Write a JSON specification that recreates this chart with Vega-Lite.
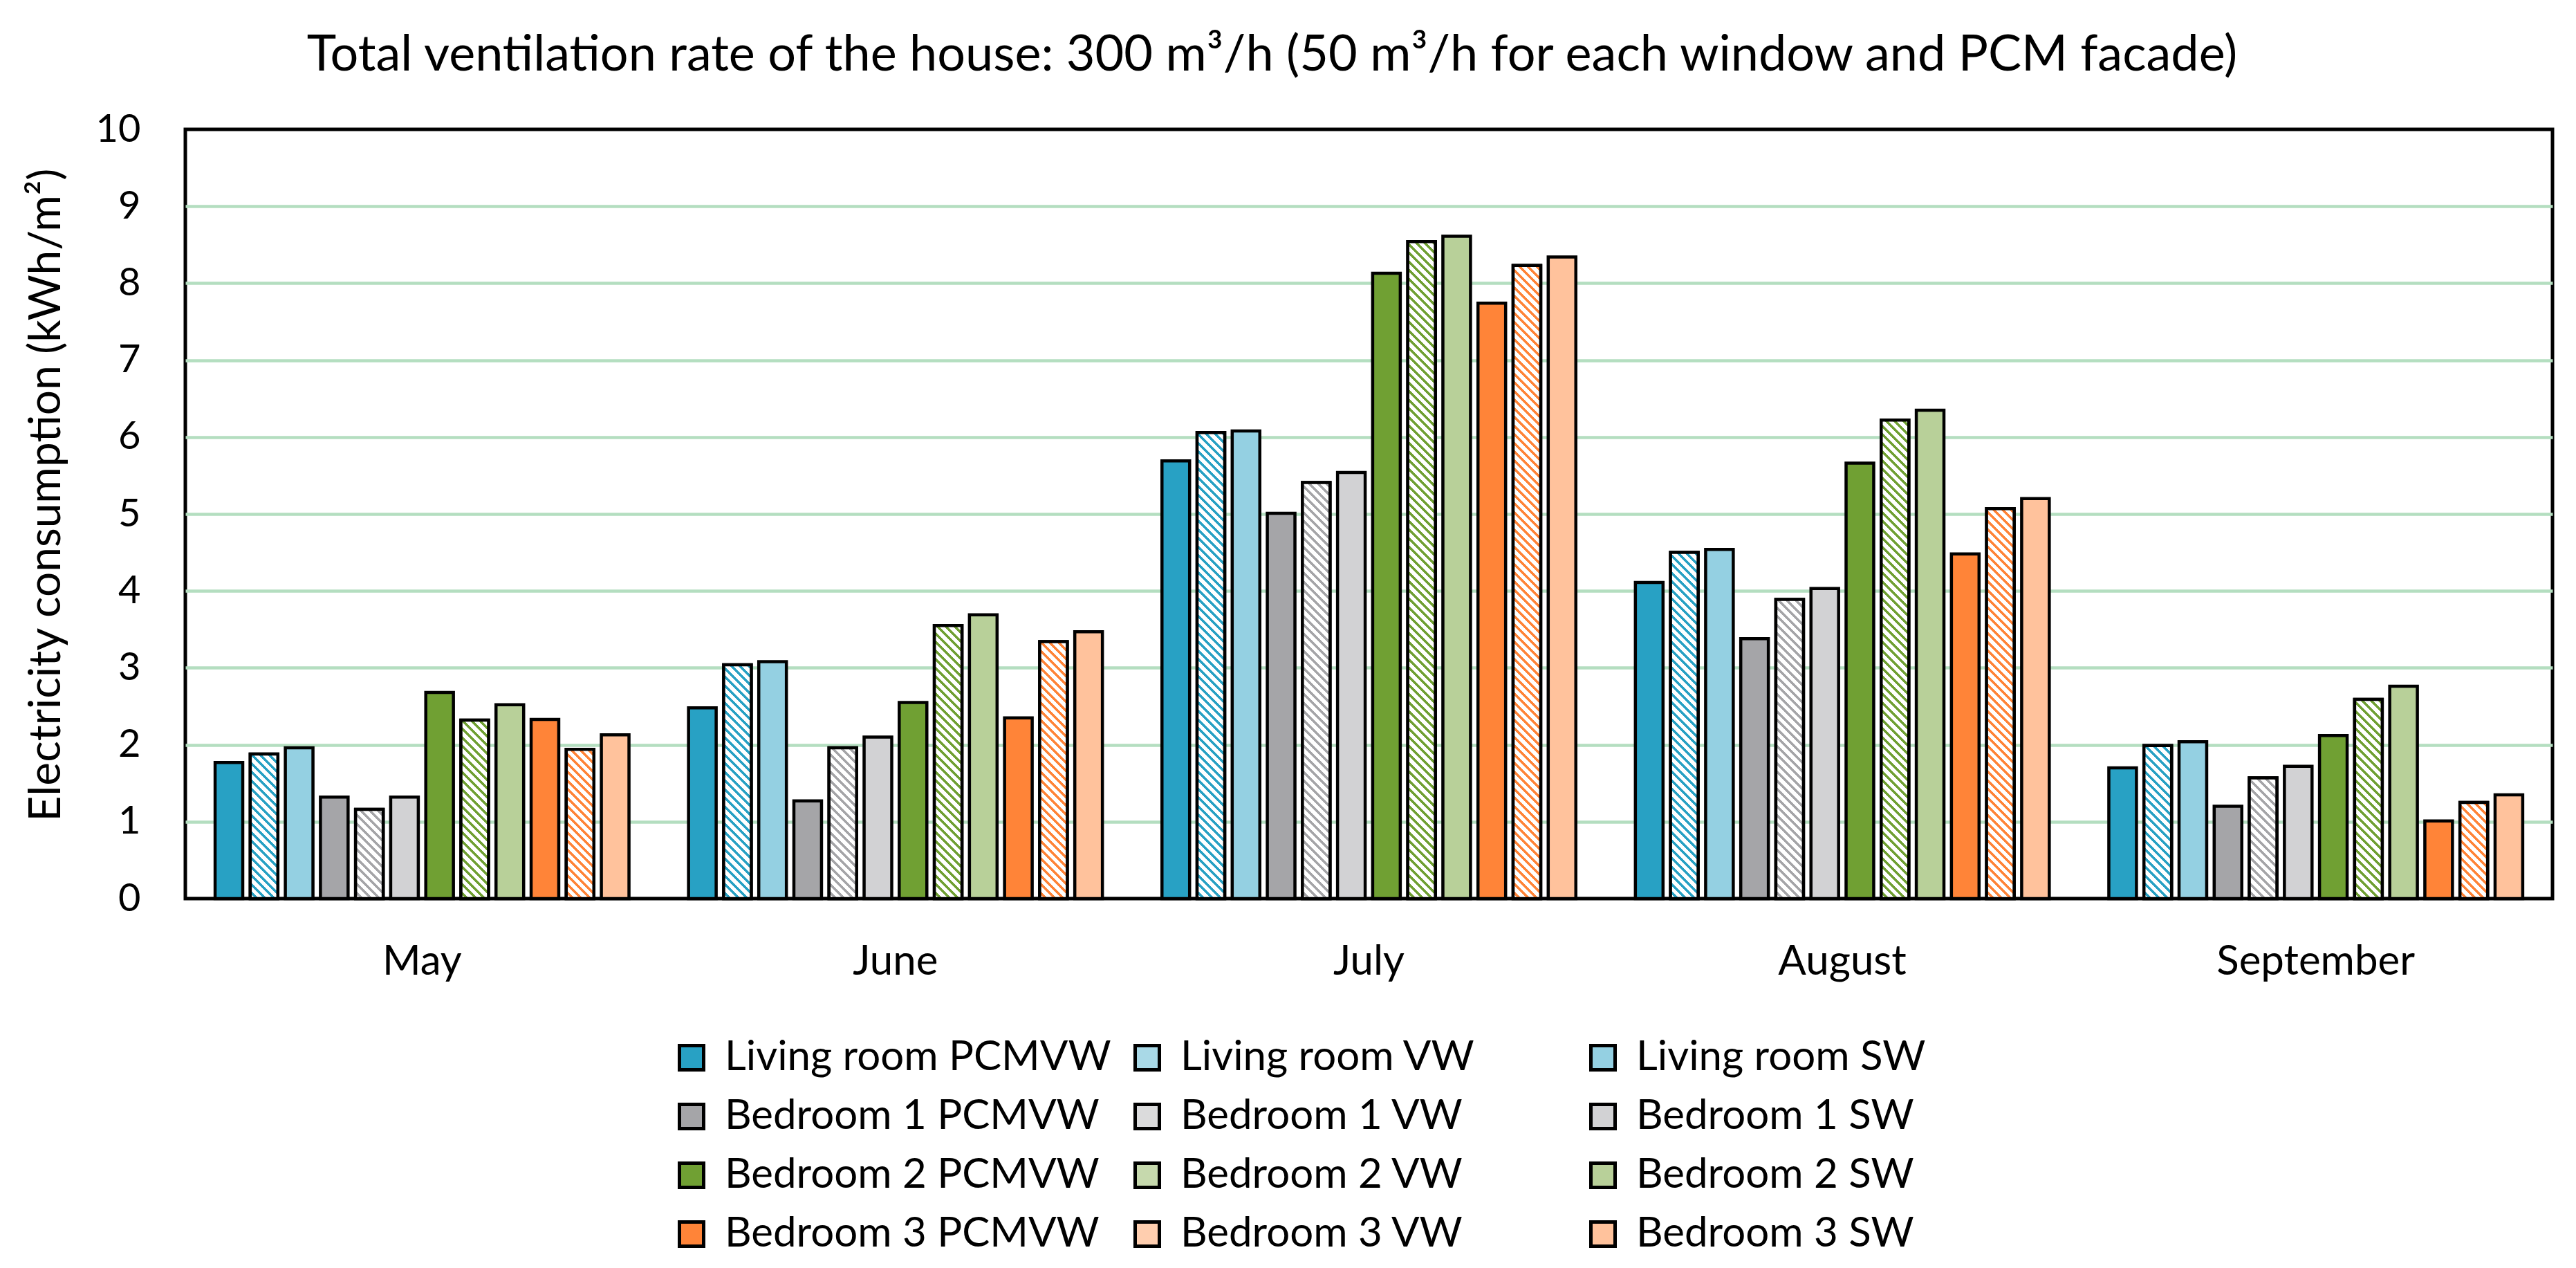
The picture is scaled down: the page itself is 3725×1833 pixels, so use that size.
{
"$schema": "https://vega.github.io/schema/vega-lite/v6.json",
"width": 3423, "height": 1112,
"autosize": {"type": "none"},
"padding": {"left": 268, "top": 187, "right": 34, "bottom": 534},
"background": "white",
"params": [{"name": "hatch", "value": [
{"offset":0,"color":"#fff"},{"offset":0.0075,"color":"#fff"},{"offset":0.0075,"color":"#fff0"},{"offset":0.0125,"color":"#fff0"},
{"offset":0.0125,"color":"#fff"},{"offset":0.02,"color":"#fff"},{"offset":0.02,"color":"#fff0"},{"offset":0.025,"color":"#fff0"},
{"offset":0.025,"color":"#fff"},{"offset":0.0325,"color":"#fff"},{"offset":0.0325,"color":"#fff0"},{"offset":0.0375,"color":"#fff0"},
{"offset":0.0375,"color":"#fff"},{"offset":0.045,"color":"#fff"},{"offset":0.045,"color":"#fff0"},{"offset":0.05,"color":"#fff0"},
{"offset":0.05,"color":"#fff"},{"offset":0.0575,"color":"#fff"},{"offset":0.0575,"color":"#fff0"},{"offset":0.0625,"color":"#fff0"},
{"offset":0.0625,"color":"#fff"},{"offset":0.07,"color":"#fff"},{"offset":0.07,"color":"#fff0"},{"offset":0.075,"color":"#fff0"},
{"offset":0.075,"color":"#fff"},{"offset":0.0825,"color":"#fff"},{"offset":0.0825,"color":"#fff0"},{"offset":0.0875,"color":"#fff0"},
{"offset":0.0875,"color":"#fff"},{"offset":0.095,"color":"#fff"},{"offset":0.095,"color":"#fff0"},{"offset":0.1,"color":"#fff0"},
{"offset":0.1,"color":"#fff"},{"offset":0.1075,"color":"#fff"},{"offset":0.1075,"color":"#fff0"},{"offset":0.1125,"color":"#fff0"},
{"offset":0.1125,"color":"#fff"},{"offset":0.12,"color":"#fff"},{"offset":0.12,"color":"#fff0"},{"offset":0.125,"color":"#fff0"},
{"offset":0.125,"color":"#fff"},{"offset":0.1325,"color":"#fff"},{"offset":0.1325,"color":"#fff0"},{"offset":0.1375,"color":"#fff0"},
{"offset":0.1375,"color":"#fff"},{"offset":0.145,"color":"#fff"},{"offset":0.145,"color":"#fff0"},{"offset":0.15,"color":"#fff0"},
{"offset":0.15,"color":"#fff"},{"offset":0.1575,"color":"#fff"},{"offset":0.1575,"color":"#fff0"},{"offset":0.1625,"color":"#fff0"},
{"offset":0.1625,"color":"#fff"},{"offset":0.17,"color":"#fff"},{"offset":0.17,"color":"#fff0"},{"offset":0.175,"color":"#fff0"},
{"offset":0.175,"color":"#fff"},{"offset":0.1825,"color":"#fff"},{"offset":0.1825,"color":"#fff0"},{"offset":0.1875,"color":"#fff0"},
{"offset":0.1875,"color":"#fff"},{"offset":0.195,"color":"#fff"},{"offset":0.195,"color":"#fff0"},{"offset":0.2,"color":"#fff0"},
{"offset":0.2,"color":"#fff"},{"offset":0.2075,"color":"#fff"},{"offset":0.2075,"color":"#fff0"},{"offset":0.2125,"color":"#fff0"},
{"offset":0.2125,"color":"#fff"},{"offset":0.22,"color":"#fff"},{"offset":0.22,"color":"#fff0"},{"offset":0.225,"color":"#fff0"},
{"offset":0.225,"color":"#fff"},{"offset":0.2325,"color":"#fff"},{"offset":0.2325,"color":"#fff0"},{"offset":0.2375,"color":"#fff0"},
{"offset":0.2375,"color":"#fff"},{"offset":0.245,"color":"#fff"},{"offset":0.245,"color":"#fff0"},{"offset":0.25,"color":"#fff0"},
{"offset":0.25,"color":"#fff"},{"offset":0.2575,"color":"#fff"},{"offset":0.2575,"color":"#fff0"},{"offset":0.2625,"color":"#fff0"},
{"offset":0.2625,"color":"#fff"},{"offset":0.27,"color":"#fff"},{"offset":0.27,"color":"#fff0"},{"offset":0.275,"color":"#fff0"},
{"offset":0.275,"color":"#fff"},{"offset":0.2825,"color":"#fff"},{"offset":0.2825,"color":"#fff0"},{"offset":0.2875,"color":"#fff0"},
{"offset":0.2875,"color":"#fff"},{"offset":0.295,"color":"#fff"},{"offset":0.295,"color":"#fff0"},{"offset":0.3,"color":"#fff0"},
{"offset":0.3,"color":"#fff"},{"offset":0.3075,"color":"#fff"},{"offset":0.3075,"color":"#fff0"},{"offset":0.3125,"color":"#fff0"},
{"offset":0.3125,"color":"#fff"},{"offset":0.32,"color":"#fff"},{"offset":0.32,"color":"#fff0"},{"offset":0.325,"color":"#fff0"},
{"offset":0.325,"color":"#fff"},{"offset":0.3325,"color":"#fff"},{"offset":0.3325,"color":"#fff0"},{"offset":0.3375,"color":"#fff0"},
{"offset":0.3375,"color":"#fff"},{"offset":0.345,"color":"#fff"},{"offset":0.345,"color":"#fff0"},{"offset":0.35,"color":"#fff0"},
{"offset":0.35,"color":"#fff"},{"offset":0.3575,"color":"#fff"},{"offset":0.3575,"color":"#fff0"},{"offset":0.3625,"color":"#fff0"},
{"offset":0.3625,"color":"#fff"},{"offset":0.37,"color":"#fff"},{"offset":0.37,"color":"#fff0"},{"offset":0.375,"color":"#fff0"},
{"offset":0.375,"color":"#fff"},{"offset":0.3825,"color":"#fff"},{"offset":0.3825,"color":"#fff0"},{"offset":0.3875,"color":"#fff0"},
{"offset":0.3875,"color":"#fff"},{"offset":0.395,"color":"#fff"},{"offset":0.395,"color":"#fff0"},{"offset":0.4,"color":"#fff0"},
{"offset":0.4,"color":"#fff"},{"offset":0.4075,"color":"#fff"},{"offset":0.4075,"color":"#fff0"},{"offset":0.4125,"color":"#fff0"},
{"offset":0.4125,"color":"#fff"},{"offset":0.42,"color":"#fff"},{"offset":0.42,"color":"#fff0"},{"offset":0.425,"color":"#fff0"},
{"offset":0.425,"color":"#fff"},{"offset":0.4325,"color":"#fff"},{"offset":0.4325,"color":"#fff0"},{"offset":0.4375,"color":"#fff0"},
{"offset":0.4375,"color":"#fff"},{"offset":0.445,"color":"#fff"},{"offset":0.445,"color":"#fff0"},{"offset":0.45,"color":"#fff0"},
{"offset":0.45,"color":"#fff"},{"offset":0.4575,"color":"#fff"},{"offset":0.4575,"color":"#fff0"},{"offset":0.4625,"color":"#fff0"},
{"offset":0.4625,"color":"#fff"},{"offset":0.47,"color":"#fff"},{"offset":0.47,"color":"#fff0"},{"offset":0.475,"color":"#fff0"},
{"offset":0.475,"color":"#fff"},{"offset":0.4825,"color":"#fff"},{"offset":0.4825,"color":"#fff0"},{"offset":0.4875,"color":"#fff0"},
{"offset":0.4875,"color":"#fff"},{"offset":0.495,"color":"#fff"},{"offset":0.495,"color":"#fff0"},{"offset":0.5,"color":"#fff0"},
{"offset":0.5,"color":"#fff"},{"offset":0.5075,"color":"#fff"},{"offset":0.5075,"color":"#fff0"},{"offset":0.5125,"color":"#fff0"},
{"offset":0.5125,"color":"#fff"},{"offset":0.52,"color":"#fff"},{"offset":0.52,"color":"#fff0"},{"offset":0.525,"color":"#fff0"},
{"offset":0.525,"color":"#fff"},{"offset":0.5325,"color":"#fff"},{"offset":0.5325,"color":"#fff0"},{"offset":0.5375,"color":"#fff0"},
{"offset":0.5375,"color":"#fff"},{"offset":0.545,"color":"#fff"},{"offset":0.545,"color":"#fff0"},{"offset":0.55,"color":"#fff0"},
{"offset":0.55,"color":"#fff"},{"offset":0.5575,"color":"#fff"},{"offset":0.5575,"color":"#fff0"},{"offset":0.5625,"color":"#fff0"},
{"offset":0.5625,"color":"#fff"},{"offset":0.57,"color":"#fff"},{"offset":0.57,"color":"#fff0"},{"offset":0.575,"color":"#fff0"},
{"offset":0.575,"color":"#fff"},{"offset":0.5825,"color":"#fff"},{"offset":0.5825,"color":"#fff0"},{"offset":0.5875,"color":"#fff0"},
{"offset":0.5875,"color":"#fff"},{"offset":0.595,"color":"#fff"},{"offset":0.595,"color":"#fff0"},{"offset":0.6,"color":"#fff0"},
{"offset":0.6,"color":"#fff"},{"offset":0.6075,"color":"#fff"},{"offset":0.6075,"color":"#fff0"},{"offset":0.6125,"color":"#fff0"},
{"offset":0.6125,"color":"#fff"},{"offset":0.62,"color":"#fff"},{"offset":0.62,"color":"#fff0"},{"offset":0.625,"color":"#fff0"},
{"offset":0.625,"color":"#fff"},{"offset":0.6325,"color":"#fff"},{"offset":0.6325,"color":"#fff0"},{"offset":0.6375,"color":"#fff0"},
{"offset":0.6375,"color":"#fff"},{"offset":0.645,"color":"#fff"},{"offset":0.645,"color":"#fff0"},{"offset":0.65,"color":"#fff0"},
{"offset":0.65,"color":"#fff"},{"offset":0.6575,"color":"#fff"},{"offset":0.6575,"color":"#fff0"},{"offset":0.6625,"color":"#fff0"},
{"offset":0.6625,"color":"#fff"},{"offset":0.67,"color":"#fff"},{"offset":0.67,"color":"#fff0"},{"offset":0.675,"color":"#fff0"},
{"offset":0.675,"color":"#fff"},{"offset":0.6825,"color":"#fff"},{"offset":0.6825,"color":"#fff0"},{"offset":0.6875,"color":"#fff0"},
{"offset":0.6875,"color":"#fff"},{"offset":0.695,"color":"#fff"},{"offset":0.695,"color":"#fff0"},{"offset":0.7,"color":"#fff0"},
{"offset":0.7,"color":"#fff"},{"offset":0.7075,"color":"#fff"},{"offset":0.7075,"color":"#fff0"},{"offset":0.7125,"color":"#fff0"},
{"offset":0.7125,"color":"#fff"},{"offset":0.72,"color":"#fff"},{"offset":0.72,"color":"#fff0"},{"offset":0.725,"color":"#fff0"},
{"offset":0.725,"color":"#fff"},{"offset":0.7325,"color":"#fff"},{"offset":0.7325,"color":"#fff0"},{"offset":0.7375,"color":"#fff0"},
{"offset":0.7375,"color":"#fff"},{"offset":0.745,"color":"#fff"},{"offset":0.745,"color":"#fff0"},{"offset":0.75,"color":"#fff0"},
{"offset":0.75,"color":"#fff"},{"offset":0.7575,"color":"#fff"},{"offset":0.7575,"color":"#fff0"},{"offset":0.7625,"color":"#fff0"},
{"offset":0.7625,"color":"#fff"},{"offset":0.77,"color":"#fff"},{"offset":0.77,"color":"#fff0"},{"offset":0.775,"color":"#fff0"},
{"offset":0.775,"color":"#fff"},{"offset":0.7825,"color":"#fff"},{"offset":0.7825,"color":"#fff0"},{"offset":0.7875,"color":"#fff0"},
{"offset":0.7875,"color":"#fff"},{"offset":0.795,"color":"#fff"},{"offset":0.795,"color":"#fff0"},{"offset":0.8,"color":"#fff0"},
{"offset":0.8,"color":"#fff"},{"offset":0.8075,"color":"#fff"},{"offset":0.8075,"color":"#fff0"},{"offset":0.8125,"color":"#fff0"},
{"offset":0.8125,"color":"#fff"},{"offset":0.82,"color":"#fff"},{"offset":0.82,"color":"#fff0"},{"offset":0.825,"color":"#fff0"},
{"offset":0.825,"color":"#fff"},{"offset":0.8325,"color":"#fff"},{"offset":0.8325,"color":"#fff0"},{"offset":0.8375,"color":"#fff0"},
{"offset":0.8375,"color":"#fff"},{"offset":0.845,"color":"#fff"},{"offset":0.845,"color":"#fff0"},{"offset":0.85,"color":"#fff0"},
{"offset":0.85,"color":"#fff"},{"offset":0.8575,"color":"#fff"},{"offset":0.8575,"color":"#fff0"},{"offset":0.8625,"color":"#fff0"},
{"offset":0.8625,"color":"#fff"},{"offset":0.87,"color":"#fff"},{"offset":0.87,"color":"#fff0"},{"offset":0.875,"color":"#fff0"},
{"offset":0.875,"color":"#fff"},{"offset":0.8825,"color":"#fff"},{"offset":0.8825,"color":"#fff0"},{"offset":0.8875,"color":"#fff0"},
{"offset":0.8875,"color":"#fff"},{"offset":0.895,"color":"#fff"},{"offset":0.895,"color":"#fff0"},{"offset":0.9,"color":"#fff0"},
{"offset":0.9,"color":"#fff"},{"offset":0.9075,"color":"#fff"},{"offset":0.9075,"color":"#fff0"},{"offset":0.9125,"color":"#fff0"},
{"offset":0.9125,"color":"#fff"},{"offset":0.92,"color":"#fff"},{"offset":0.92,"color":"#fff0"},{"offset":0.925,"color":"#fff0"},
{"offset":0.925,"color":"#fff"},{"offset":0.9325,"color":"#fff"},{"offset":0.9325,"color":"#fff0"},{"offset":0.9375,"color":"#fff0"},
{"offset":0.9375,"color":"#fff"},{"offset":0.945,"color":"#fff"},{"offset":0.945,"color":"#fff0"},{"offset":0.95,"color":"#fff0"},
{"offset":0.95,"color":"#fff"},{"offset":0.9575,"color":"#fff"},{"offset":0.9575,"color":"#fff0"},{"offset":0.9625,"color":"#fff0"},
{"offset":0.9625,"color":"#fff"},{"offset":0.97,"color":"#fff"},{"offset":0.97,"color":"#fff0"},{"offset":0.975,"color":"#fff0"},
{"offset":0.975,"color":"#fff"},{"offset":0.9825,"color":"#fff"},{"offset":0.9825,"color":"#fff0"},{"offset":0.9875,"color":"#fff0"},
{"offset":0.9875,"color":"#fff"},{"offset":0.995,"color":"#fff"},{"offset":0.995,"color":"#fff0"},{"offset":1,"color":"#fff0"}
]}],
"title": {"text": "Total ventilation rate of the house: 300 m³/h (50 m³/h for each window and PCM facade)", "font": "Lato", "fontSize": 72, "fontWeight": "normal", "color": "black", "anchor": "middle", "dx": -140, "dy": 21, "offset": 6, "baseline": "alphabetic", "limit": 3700},
"data": {"values": [
{"month":"May","room":"Living room","type":"PCMVW","series":"Living room PCMVW","value":1.77},
{"month":"May","room":"Living room","type":"VW","series":"Living room VW","value":1.88},
{"month":"May","room":"Living room","type":"SW","series":"Living room SW","value":1.96},
{"month":"May","room":"Bedroom 1","type":"PCMVW","series":"Bedroom 1 PCMVW","value":1.32},
{"month":"May","room":"Bedroom 1","type":"VW","series":"Bedroom 1 VW","value":1.16},
{"month":"May","room":"Bedroom 1","type":"SW","series":"Bedroom 1 SW","value":1.32},
{"month":"May","room":"Bedroom 2","type":"PCMVW","series":"Bedroom 2 PCMVW","value":2.68},
{"month":"May","room":"Bedroom 2","type":"VW","series":"Bedroom 2 VW","value":2.32},
{"month":"May","room":"Bedroom 2","type":"SW","series":"Bedroom 2 SW","value":2.52},
{"month":"May","room":"Bedroom 3","type":"PCMVW","series":"Bedroom 3 PCMVW","value":2.33},
{"month":"May","room":"Bedroom 3","type":"VW","series":"Bedroom 3 VW","value":1.94},
{"month":"May","room":"Bedroom 3","type":"SW","series":"Bedroom 3 SW","value":2.13},
{"month":"June","room":"Living room","type":"PCMVW","series":"Living room PCMVW","value":2.48},
{"month":"June","room":"Living room","type":"VW","series":"Living room VW","value":3.04},
{"month":"June","room":"Living room","type":"SW","series":"Living room SW","value":3.08},
{"month":"June","room":"Bedroom 1","type":"PCMVW","series":"Bedroom 1 PCMVW","value":1.27},
{"month":"June","room":"Bedroom 1","type":"VW","series":"Bedroom 1 VW","value":1.96},
{"month":"June","room":"Bedroom 1","type":"SW","series":"Bedroom 1 SW","value":2.10},
{"month":"June","room":"Bedroom 2","type":"PCMVW","series":"Bedroom 2 PCMVW","value":2.55},
{"month":"June","room":"Bedroom 2","type":"VW","series":"Bedroom 2 VW","value":3.55},
{"month":"June","room":"Bedroom 2","type":"SW","series":"Bedroom 2 SW","value":3.69},
{"month":"June","room":"Bedroom 3","type":"PCMVW","series":"Bedroom 3 PCMVW","value":2.35},
{"month":"June","room":"Bedroom 3","type":"VW","series":"Bedroom 3 VW","value":3.34},
{"month":"June","room":"Bedroom 3","type":"SW","series":"Bedroom 3 SW","value":3.47},
{"month":"July","room":"Living room","type":"PCMVW","series":"Living room PCMVW","value":5.69},
{"month":"July","room":"Living room","type":"VW","series":"Living room VW","value":6.06},
{"month":"July","room":"Living room","type":"SW","series":"Living room SW","value":6.08},
{"month":"July","room":"Bedroom 1","type":"PCMVW","series":"Bedroom 1 PCMVW","value":5.01},
{"month":"July","room":"Bedroom 1","type":"VW","series":"Bedroom 1 VW","value":5.41},
{"month":"July","room":"Bedroom 1","type":"SW","series":"Bedroom 1 SW","value":5.54},
{"month":"July","room":"Bedroom 2","type":"PCMVW","series":"Bedroom 2 PCMVW","value":8.13},
{"month":"July","room":"Bedroom 2","type":"VW","series":"Bedroom 2 VW","value":8.54},
{"month":"July","room":"Bedroom 2","type":"SW","series":"Bedroom 2 SW","value":8.61},
{"month":"July","room":"Bedroom 3","type":"PCMVW","series":"Bedroom 3 PCMVW","value":7.74},
{"month":"July","room":"Bedroom 3","type":"VW","series":"Bedroom 3 VW","value":8.23},
{"month":"July","room":"Bedroom 3","type":"SW","series":"Bedroom 3 SW","value":8.34},
{"month":"August","room":"Living room","type":"PCMVW","series":"Living room PCMVW","value":4.11},
{"month":"August","room":"Living room","type":"VW","series":"Living room VW","value":4.50},
{"month":"August","room":"Living room","type":"SW","series":"Living room SW","value":4.54},
{"month":"August","room":"Bedroom 1","type":"PCMVW","series":"Bedroom 1 PCMVW","value":3.38},
{"month":"August","room":"Bedroom 1","type":"VW","series":"Bedroom 1 VW","value":3.89},
{"month":"August","room":"Bedroom 1","type":"SW","series":"Bedroom 1 SW","value":4.03},
{"month":"August","room":"Bedroom 2","type":"PCMVW","series":"Bedroom 2 PCMVW","value":5.66},
{"month":"August","room":"Bedroom 2","type":"VW","series":"Bedroom 2 VW","value":6.22},
{"month":"August","room":"Bedroom 2","type":"SW","series":"Bedroom 2 SW","value":6.35},
{"month":"August","room":"Bedroom 3","type":"PCMVW","series":"Bedroom 3 PCMVW","value":4.48},
{"month":"August","room":"Bedroom 3","type":"VW","series":"Bedroom 3 VW","value":5.07},
{"month":"August","room":"Bedroom 3","type":"SW","series":"Bedroom 3 SW","value":5.20},
{"month":"September","room":"Living room","type":"PCMVW","series":"Living room PCMVW","value":1.70},
{"month":"September","room":"Living room","type":"VW","series":"Living room VW","value":1.99},
{"month":"September","room":"Living room","type":"SW","series":"Living room SW","value":2.04},
{"month":"September","room":"Bedroom 1","type":"PCMVW","series":"Bedroom 1 PCMVW","value":1.20},
{"month":"September","room":"Bedroom 1","type":"VW","series":"Bedroom 1 VW","value":1.57},
{"month":"September","room":"Bedroom 1","type":"SW","series":"Bedroom 1 SW","value":1.72},
{"month":"September","room":"Bedroom 2","type":"PCMVW","series":"Bedroom 2 PCMVW","value":2.12},
{"month":"September","room":"Bedroom 2","type":"VW","series":"Bedroom 2 VW","value":2.59},
{"month":"September","room":"Bedroom 2","type":"SW","series":"Bedroom 2 SW","value":2.76},
{"month":"September","room":"Bedroom 3","type":"PCMVW","series":"Bedroom 3 PCMVW","value":1.01},
{"month":"September","room":"Bedroom 3","type":"VW","series":"Bedroom 3 VW","value":1.25},
{"month":"September","room":"Bedroom 3","type":"SW","series":"Bedroom 3 SW","value":1.35}
]},
"encoding": {
  "x": {"field": "month", "type": "nominal", "sort": ["May","June","July","August","September"], "title": null,
        "scale": {"paddingInner": 0, "paddingOuter": 0},
        "axis": {"labelFont": "Lato", "labelFontSize": 60, "labelColor": "black", "labelPadding": 62, "labelLimit": 2000, "ticks": false, "tickSize": 0, "domain": false, "labelAngle": 0, "grid": false}},
  "xOffset": {"field": "series", "type": "nominal",
        "sort": ["Living room PCMVW","Living room VW","Living room SW","Bedroom 1 PCMVW","Bedroom 1 VW","Bedroom 1 SW","Bedroom 2 PCMVW","Bedroom 2 VW","Bedroom 2 SW","Bedroom 3 PCMVW","Bedroom 3 VW","Bedroom 3 SW"],
        "scale": {"paddingInner": 0.213, "paddingOuter": 0.848}},
  "y": {"field": "value", "type": "quantitative", "stack": null, "title": "Electricity consumption (kWh/m²)",
        "scale": {"domain": [0, 10], "nice": false},
        "axis": {"values": [0,1,2,3,4,5,6,7,8,9,10], "labelFont": "Lato", "labelFontSize": 56, "labelColor": "black", "labelPadding": 65, "ticks": false, "tickSize": 0, "domain": false,
                 "grid": true, "gridColor": "#B4DEC0", "gridWidth": 4.5,
                 "gridOpacity": {"condition": {"test": "datum.value == 0 || datum.value == 10", "value": 0}, "value": 1},
                 "titleFont": "Lato", "titleFontSize": 64, "titleFontWeight": "normal", "titleColor": "black", "titleLimit": 2000,
                 "titleX": -201, "titleY": 528, "titleBaseline": "middle", "titleAngle": -90}}
},
"layer": [
  {"mark": {"type": "bar", "stroke": "black", "strokeWidth": 4.5},
   "encoding": {"fill": {"field": "series", "type": "nominal",
      "scale": {"domain": ["Living room PCMVW","Bedroom 1 PCMVW","Bedroom 2 PCMVW","Bedroom 3 PCMVW","Living room VW","Bedroom 1 VW","Bedroom 2 VW","Bedroom 3 VW","Living room SW","Bedroom 1 SW","Bedroom 2 SW","Bedroom 3 SW"],
                "range": ["#28A1C4","#A5A5A8","#70A033","#FF8438","#A9D9E7","#DBDBDC","#C6D9AD","#FFCEAF","#94D0E2","#D2D2D4","#B8D099","#FFC29C"]},
      "legend": {"title": null, "orient": "none", "legendX": 702, "legendY": 1312, "columns": 3, "gridAlign": "all", "columnPadding": 22, "rowPadding": 25,
                 "symbolType": "square", "symbolSize": 1225, "symbolStrokeColor": "black", "symbolStrokeWidth": 5,
                 "labelFont": "Lato", "labelFontSize": 60, "labelColor": "black", "labelOffset": 18, "labelLimit": 2000, "padding": 0,
                 "encode": {"symbols": {"update": {
                    "stroke": {"value": "black"}, "strokeWidth": {"value": 5}, "opacity": {"value": 1}, "fillOpacity": {"value": 1},
                    "fill": {"signal": "indexof(datum.label, ' VW') > 0 ? {gradient: 'linear', x1: 0, y1: 1, x2: 1, y2: 0, stops: [{offset: 0, color: scale('fill', replace(datum.label, 'VW', 'PCMVW'))}, {offset: 0.0667, color: scale('fill', replace(datum.label, 'VW', 'PCMVW'))}, {offset: 0.0667, color: '#fff'}, {offset: 0.1667, color: '#fff'}, {offset: 0.1667, color: scale('fill', replace(datum.label, 'VW', 'PCMVW'))}, {offset: 0.2333, color: scale('fill', replace(datum.label, 'VW', 'PCMVW'))}, {offset: 0.2333, color: '#fff'}, {offset: 0.3333, color: '#fff'}, {offset: 0.3333, color: scale('fill', replace(datum.label, 'VW', 'PCMVW'))}, {offset: 0.4, color: scale('fill', replace(datum.label, 'VW', 'PCMVW'))}, {offset: 0.4, color: '#fff'}, {offset: 0.5, color: '#fff'}, {offset: 0.5, color: scale('fill', replace(datum.label, 'VW', 'PCMVW'))}, {offset: 0.5667, color: scale('fill', replace(datum.label, 'VW', 'PCMVW'))}, {offset: 0.5667, color: '#fff'}, {offset: 0.6667, color: '#fff'}, {offset: 0.6667, color: scale('fill', replace(datum.label, 'VW', 'PCMVW'))}, {offset: 0.7333, color: scale('fill', replace(datum.label, 'VW', 'PCMVW'))}, {offset: 0.7333, color: '#fff'}, {offset: 0.8333, color: '#fff'}, {offset: 0.8333, color: scale('fill', replace(datum.label, 'VW', 'PCMVW'))}, {offset: 0.9, color: scale('fill', replace(datum.label, 'VW', 'PCMVW'))}, {offset: 0.9, color: '#fff'}, {offset: 1, color: '#fff'}]} : scale('fill', datum.label)"}}}}}}}},
  {"transform": [{"filter": "datum.type == 'VW'"}],
   "mark": {"type": "bar", "strokeWidth": 0,
            "fill": {"expr": "datum.room == 'Living room' ? '#28A1C4' : datum.room == 'Bedroom 1' ? '#A5A5A8' : datum.room == 'Bedroom 2' ? '#70A033' : '#FF8438'"}}},
  {"transform": [{"filter": "datum.type == 'VW'"}],
   "mark": {"type": "bar", "stroke": "black", "strokeWidth": 4.5,
            "fill": {"expr": "{gradient: 'linear', x1: 0, y1: 1, x2: 1000 * bandwidth('xOffset') / (pow(bandwidth('xOffset'), 2) + pow(scale('y', 0) - scale('y', datum.value), 2)), y2: 1 - 1000 * (scale('y', 0) - scale('y', datum.value)) / (pow(bandwidth('xOffset'), 2) + pow(scale('y', 0) - scale('y', datum.value), 2)), stops: hatch}"}}}
],
"config": {"view": {"stroke": "black", "strokeWidth": 5}}
}
